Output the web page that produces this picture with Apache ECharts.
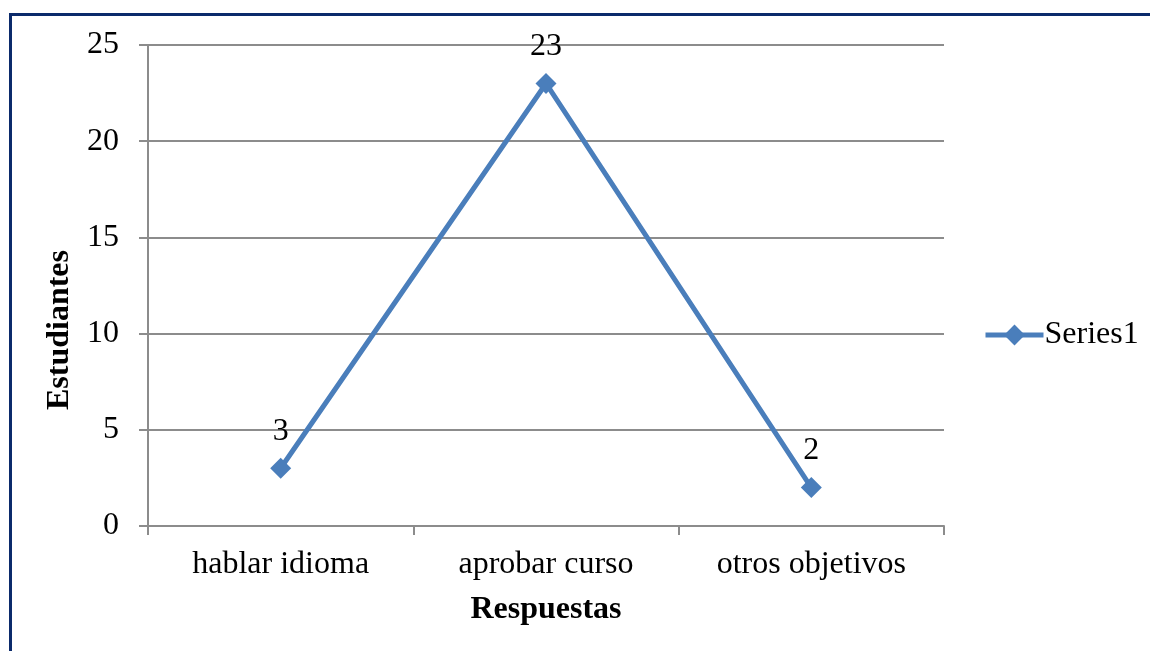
<!DOCTYPE html>
<html>
<head>
<meta charset="utf-8">
<script src="https://cdn.jsdelivr.net/npm/echarts@6/dist/echarts.min.js"></script>
<style>
html,body{margin:0;padding:0;background:#fff;}
#frame{position:absolute;left:9px;top:13px;width:1200px;height:700px;border-left:3px solid #0b2a6b;border-top:3px solid #0b2a6b;box-sizing:border-box;}
#chart{position:absolute;left:0;top:0;width:1150px;height:651px;}
</style>
</head>
<body>
<div id="frame"></div>
<div id="chart"></div>
<script>
const categories = ['hablar idioma', 'aprobar curso', 'otros objetivos'];
const seriesName = 'Series1';
const values = [3, 23, 2];
const yTicks = [0, 5, 10, 15, 20, 25];

const FONT = '"Liberation Serif", "Times New Roman", serif';
const FS = 32;
const BLUE = '#4a7ebb';
const GRAY = '#8c8c8c';

const chart = echarts.init(document.getElementById('chart'), null, {renderer: 'canvas'});
chart.setOption({
  animation: false,
  backgroundColor: 'transparent',
  textStyle: {fontFamily: FONT},
  grid: {left: 148, right: 206, top: 45, bottom: 125, containLabel: false},
  legend: {
    data: [seriesName],
    left: 978, top: 314,
    itemWidth: 58, itemHeight: 26, itemGap: 4,
    lineStyle: {width: 5, color: BLUE},
    itemStyle: {color: BLUE},
    textStyle: {fontFamily: FONT, fontSize: FS, color: '#000', padding: [0, 0, 0, -4]}
  },
  xAxis: {
    type: 'category',
    data: categories,
    boundaryGap: true,
    name: 'Respuestas',
    nameLocation: 'middle',
    nameGap: 68,
    nameTextStyle: {fontFamily: FONT, fontSize: FS, fontWeight: 'bold', color: '#000'},
    axisLine: {show: true, lineStyle: {color: GRAY, width: 2}},
    axisTick: {show: true, length: 9, alignWithLabel: false, lineStyle: {color: GRAY, width: 2}},
    axisLabel: {fontFamily: FONT, fontSize: FS, color: '#000', margin: 23},
    splitLine: {show: false}
  },
  yAxis: {
    type: 'value',
    min: 0, max: 25, interval: 5,
    axisLine: {show: true, lineStyle: {color: GRAY, width: 2}},
    axisTick: {show: true, length: 9, lineStyle: {color: GRAY, width: 2}},
    axisLabel: {fontFamily: FONT, fontSize: FS, color: '#000', margin: 29,
      formatter: v => yTicks.includes(v) ? String(v) : ''},
    splitLine: {show: true, lineStyle: {color: GRAY, width: 2}}
  },
  graphic: [{
    type: 'text',
    x: 60, y: 330,
    rotation: Math.PI / 2,
    style: {
      text: 'Estudiantes',
      fontFamily: FONT, fontSize: FS, fontWeight: 'bold', fill: '#000',
      align: 'center', verticalAlign: 'middle'
    }
  }],
  series: [{
    name: seriesName,
    type: 'line',
    data: values,
    symbol: 'diamond',
    symbolSize: 21,
    color: BLUE,
    lineStyle: {color: BLUE, width: 5},
    itemStyle: {color: BLUE},
    label: {show: true, position: 'top', distance: 10,
      fontFamily: FONT, fontSize: FS, color: '#000'}
  }]
});
</script>
</body>
</html>
